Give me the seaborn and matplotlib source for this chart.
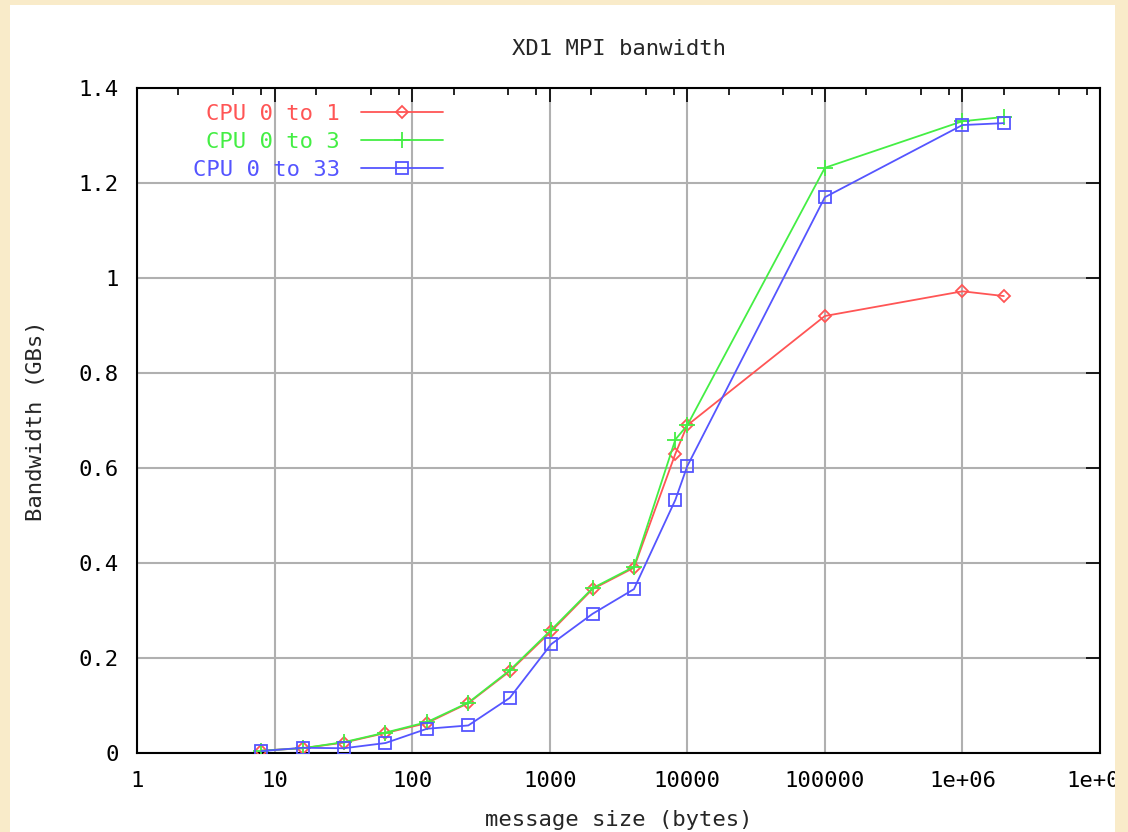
import numpy as np
import pandas as pd
import matplotlib
matplotlib.use('Agg')  # no display in the sandbox
import matplotlib.pyplot as plt
import matplotlib.ticker as mticker
from matplotlib.patches import Rectangle
import seaborn as sns

# message sizes (bytes) and measured bandwidth (GB/s) per CPU pair
msg_size = [8, 16, 32, 64, 128, 256, 512, 1024, 2048, 4096, 8192, 10000,
            100000, 1000000, 2000000]
bw_cpu0_1 = [0.005, 0.010, 0.022, 0.042, 0.063, 0.105, 0.172, 0.256, 0.345,
             0.390, 0.630, 0.690, 0.920, 0.972, 0.962]
bw_cpu0_3 = [0.005, 0.010, 0.023, 0.043, 0.065, 0.106, 0.174, 0.259, 0.347,
             0.392, 0.660, 0.690, 1.232, 1.330, 1.339]
bw_cpu0_33 = [0.004, 0.011, 0.010, 0.021, 0.051, 0.058, 0.116, 0.229, 0.293,
              0.345, 0.533, 0.604, 1.170, 1.322, 1.326]

series_labels = ["CPU 0 to 1", "CPU 0 to 3", "CPU 0 to 33"]
x_ticks = [1, 10, 100, 1000, 10000, 100000, 1000000, 10000000]
y_ticks = [0, 0.2, 0.4, 0.6, 0.8, 1.0, 1.2, 1.4]


def main():
    sns.set_style("white")
    plt.rcParams['font.family'] = ['DejaVu Sans Mono', 'DejaVu Sans']
    plt.rcParams['font.size'] = 16

    fig = plt.figure(figsize=(11.28, 8.32), dpi=100, facecolor="white")
    ax = fig.add_axes([137 / 1128, 79 / 832, 963 / 1128, 665 / 832])
    ax.set_facecolor("white")

    colors = ["#ff5555", "#44ee44", "#5555ff"]
    markers = ["D", "+", "s"]
    msizes = [6, 11, 9]
    for bw, lab, col, mk, ms in zip([bw_cpu0_1, bw_cpu0_3, bw_cpu0_33],
                                    series_labels, colors, markers, msizes):
        sns.lineplot(x=msg_size, y=bw, ax=ax, color=col, marker=mk,
                     markersize=ms, markerfacecolor="none",
                     markeredgecolor=col, markeredgewidth=1.3,
                     linewidth=1.3, label=lab, zorder=3)

    ax.set_xscale("log")
    ax.set_xlim(1, 1e7)
    ax.set_ylim(0, 1.4)
    ax.set_xticks(x_ticks)
    ax.xaxis.set_major_formatter(mticker.FuncFormatter(lambda v, p: "%g" % v))
    ax.xaxis.set_minor_locator(mticker.LogLocator(base=10, subs=[2, 5, 8]))
    ax.xaxis.set_minor_formatter(mticker.NullFormatter())
    ax.set_yticks(y_ticks)
    ax.yaxis.set_major_formatter(mticker.FuncFormatter(lambda v, p: "%g" % v))

    ax.grid(True, which="major", color="#b0b0b0", linewidth=1.5, zorder=0)
    ax.set_axisbelow(True)
    for sp in ax.spines.values():
        sp.set_visible(True)
        sp.set_color("black")
        sp.set_linewidth(1.5)
    ax.tick_params(which="both", direction="in", top=True, right=True,
                   width=1.2, colors="black", labelsize=16)
    ax.tick_params(which="major", length=10, pad=13)
    ax.tick_params(which="minor", length=5)

    ax.set_title("XD1 MPI banwidth", fontsize=16, pad=24)
    ax.set_xlabel("message size (bytes)", fontsize=16)
    ax.set_ylabel("Bandwidth (GBs)", fontsize=16)
    ax.xaxis.set_label_coords(0.5, -0.085)
    ax.yaxis.set_label_coords(-0.0945, 0.5)

    ax.legend(loc="upper right", bbox_to_anchor=(306 / 963, 0.976),
              frameon=False, markerfirst=False, labelcolor="linecolor",
              handlelength=3.7, handletextpad=0.95, labelspacing=0.36,
              borderpad=0, borderaxespad=0, fontsize=16, numpoints=1)

    # cream page border around the white picture
    cream = "#f9ebc9"
    for x0, y0, w, h in [(0, 0, 10 / 1128, 1), (0, 1 - 5 / 832, 1, 5 / 832),
                         (1115 / 1128, 0, 13 / 1128, 1)]:
        fig.add_artist(Rectangle((x0, y0), w, h, transform=fig.transFigure,
                                 facecolor=cream, edgecolor="none", zorder=10))

    fig.savefig("out.png", dpi=100, facecolor="white")
    plt.close(fig)


if __name__ == "__main__":
    main()
